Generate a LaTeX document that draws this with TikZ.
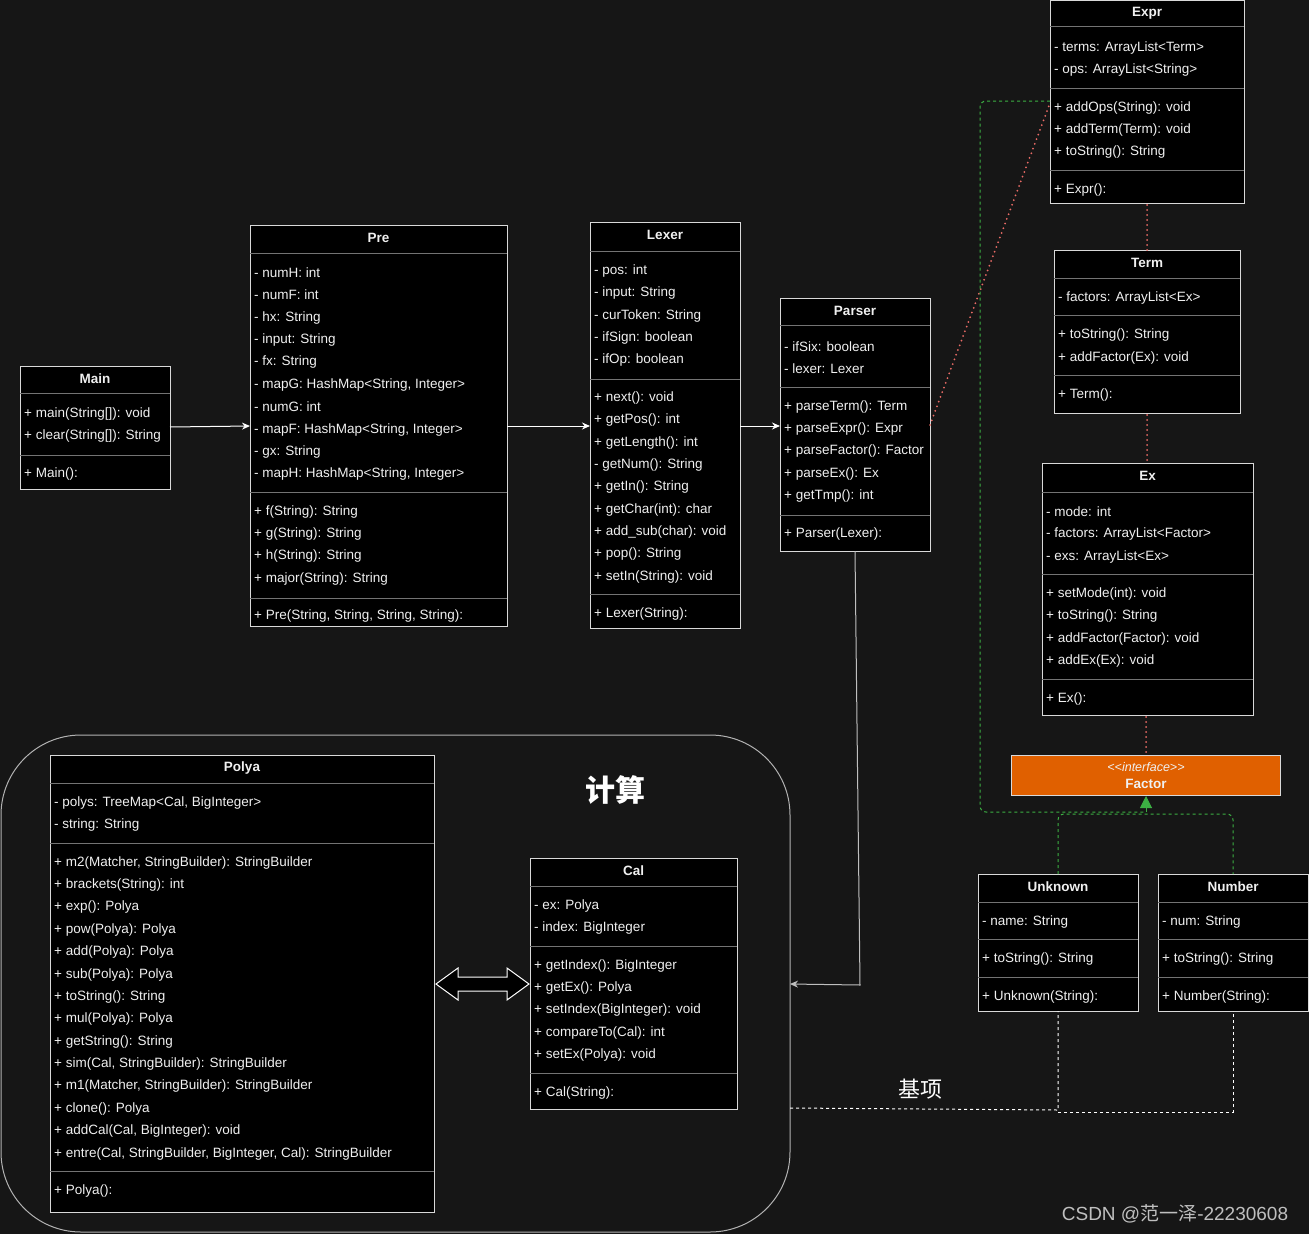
\documentclass[tikz,border=0pt]{standalone}
\usepackage{fontspec}
\setmainfont{Liberation Sans}
\newfontfamily\cjk{Noto Sans CJK SC}
\usetikzlibrary{arrows.meta}
\definecolor{bg}{HTML}{161616}
\definecolor{tx}{HTML}{F0F0F0}
\definecolor{pk}{HTML}{EA6B66}
\definecolor{gn}{HTML}{3CB043}
\definecolor{og}{HTML}{E06000}
\tikzset{
 box/.style={draw=white!85!black,fill=black,line width=1pt},
 sepl/.style={draw=white!45!black,line width=0.8pt},
 mem/.style={anchor=west,text=tx,inner sep=0pt,font=\fontsize{13.5}{15}\selectfont},
 ttl/.style={text=tx,inner sep=0pt,font=\bfseries\fontsize{13.5}{15}\selectfont},
 conn/.style={draw=white,line width=1pt,-{Stealth[length=8pt,width=7pt]}},
 pdot/.style={draw=pk,line width=2pt,line cap=round,dash pattern=on 0pt off 5pt},
 gdash/.style={draw=gn,line width=1pt,dashed,rounded corners=6pt},
 wdash/.style={draw=white,line width=1pt,dashed},
}
\newcommand{\cls}[6]{\draw[box] (#2,#3) rectangle (#4,#5);
 \node[ttl] (#1) at ({(#2+#4)/2},#3+13) {#6};}
\newcommand{\sepr}[3]{\draw[sepl] (#1,#3) -- (#2,#3);}
\newcommand{\mm}[3]{\node[mem] at (#1,#2+1) {#3};}
\begin{document}
\begin{tikzpicture}[x=1pt,y=-1pt]
\fill[bg] (0,0) rectangle (1309,1234);
\useasboundingbox (0,0) rectangle (1309,1234);
% container
\draw[white!70!black,line width=1pt,rounded corners=80pt] (1,735) rectangle (790,1232);
\node[text=white,font=\cjk\bfseries\fontsize{30}{34}\selectfont] (calc) at (615,790) {计算};
% Main
\cls{main}{20}{366}{170}{489}{Main}
\sepr{20}{170}{393}\sepr{20}{170}{455}
\mm{24}{413}{+ main(String[]): void}\mm{24}{435}{+ clear(String[]): String}\mm{24}{473}{+ Main():}
% Pre
\cls{pre}{250}{225}{507}{626}{Pre}
\sepr{250}{507}{253}\sepr{250}{507}{492}\sepr{250}{507}{598}
\mm{254}{272}{- numH: int}\mm{254}{294}{- numF: int}\mm{254}{317}{- hx: String}\mm{254}{339}{- input: String}
\mm{254}{361}{- fx: String}\mm{254}{384}{- mapG: HashMap<String, Integer>}\mm{254}{406}{- numG: int}
\mm{254}{429}{- mapF: HashMap<String, Integer>}\mm{254}{451}{- gx: String}\mm{254}{473}{- mapH: HashMap<String, Integer>}
\mm{254}{511}{+ f(String): String}\mm{254}{533}{+ g(String): String}\mm{254}{555}{+ h(String): String}\mm{254}{578}{+ major(String): String}
\mm{254}{615}{+ Pre(String, String, String, String):}
% Lexer
\cls{lexer}{590}{222}{740}{628}{Lexer}
\sepr{590}{740}{251}\sepr{590}{740}{379}\sepr{590}{740}{594}
\mm{594}{270}{- pos: int}\mm{594}{292}{- input: String}\mm{594}{315}{- curToken: String}\mm{594}{337}{- ifSign: boolean}\mm{594}{359}{- ifOp: boolean}
\mm{594}{397}{+ next(): void}\mm{594}{419}{+ getPos(): int}\mm{594}{442}{+ getLength(): int}\mm{594}{464}{- getNum(): String}
\mm{594}{486}{+ getIn(): String}\mm{594}{509}{+ getChar(int): char}\mm{594}{531}{+ add\_sub(char): void}\mm{594}{553}{+ pop(): String}\mm{594}{576}{+ setIn(String): void}
\mm{594}{613}{+ Lexer(String):}
% Parser
\cls{parser}{780}{298}{930}{551}{Parser}
\sepr{780}{930}{325}\sepr{780}{930}{387}\sepr{780}{930}{515}
\mm{784}{346}{- ifSix: boolean}\mm{784}{368}{- lexer: Lexer}
\mm{784}{406}{+ parseTerm(): Term}\mm{784}{428}{+ parseExpr(): Expr}\mm{784}{450}{+ parseFactor(): Factor}\mm{784}{473}{+ parseEx(): Ex}\mm{784}{495}{+ getTmp(): int}
\mm{784}{533}{+ Parser(Lexer):}
% Expr
\cls{expr}{1050}{0}{1244}{203}{Expr}
\sepr{1050}{1244}{26}\sepr{1050}{1244}{88}\sepr{1050}{1244}{170}
\mm{1054}{47}{- terms: ArrayList<Term>}\mm{1054}{69}{- ops: ArrayList<String>}
\mm{1054}{107}{+ addOps(String): void}\mm{1054}{129}{+ addTerm(Term): void}\mm{1054}{151}{+ toString(): String}\mm{1054}{189}{+ Expr():}
% Term
\cls{term}{1054}{250}{1240}{413}{Term}
\sepr{1054}{1240}{278}\sepr{1054}{1240}{315}\sepr{1054}{1240}{375}
\mm{1058}{297}{- factors: ArrayList<Ex>}\mm{1058}{334}{+ toString(): String}\mm{1058}{357}{+ addFactor(Ex): void}\mm{1058}{394}{+ Term():}
% Ex
\cls{ex}{1042}{463}{1253}{715}{Ex}
\sepr{1042}{1253}{492}\sepr{1042}{1253}{574}\sepr{1042}{1253}{679}
\mm{1046}{511}{- mode: int}\mm{1046}{533}{- factors: ArrayList<Factor>}\mm{1046}{556}{- exs: ArrayList<Ex>}
\mm{1046}{593}{+ setMode(int): void}\mm{1046}{615}{+ toString(): String}\mm{1046}{638}{+ addFactor(Factor): void}\mm{1046}{660}{+ addEx(Ex): void}\mm{1046}{698}{+ Ex():}
% Factor
\draw[fill=og,draw=white!85!black,line width=1pt] (1011,755) rectangle (1280,795);
\node[text=tx,inner sep=0pt,font=\itshape\fontsize{12.5}{14}\selectfont] at (1146,767) {<\kern0pt<interface>\kern0pt>};
\node[ttl] (factor) at (1146,784) {Factor};
% Unknown
\cls{unknown}{978}{874}{1138}{1011}{Unknown}
\sepr{978}{1138}{902}\sepr{978}{1138}{939}\sepr{978}{1138}{977}
\mm{982}{921}{- name: String}\mm{982}{958}{+ toString(): String}\mm{982}{996}{+ Unknown(String):}
% Number
\cls{number}{1158}{874}{1308}{1011}{Number}
\sepr{1158}{1308}{902}\sepr{1158}{1308}{939}\sepr{1158}{1308}{977}
\mm{1162}{921}{- num: String}\mm{1162}{958}{+ toString(): String}\mm{1162}{996}{+ Number(String):}
% Polya
\cls{polya}{50}{755}{434}{1212}{Polya}
\sepr{50}{434}{783}\sepr{50}{434}{843}\sepr{50}{434}{1171}
\mm{54}{802}{- polys: TreeMap<Cal, BigInteger>}\mm{54}{824}{- string: String}
\mm{54}{862}{+ m2(Matcher, StringBuilder): StringBuilder}\mm{54}{884}{+ brackets(String): int}\mm{54}{906}{+ exp(): Polya}
\mm{54}{929}{+ pow(Polya): Polya}\mm{54}{951}{+ add(Polya): Polya}\mm{54}{974}{+ sub(Polya): Polya}\mm{54}{996}{+ toString(): String}
\mm{54}{1018}{+ mul(Polya): Polya}\mm{54}{1041}{+ getString(): String}\mm{54}{1063}{+ sim(Cal, StringBuilder): StringBuilder}
\mm{54}{1085}{+ m1(Matcher, StringBuilder): StringBuilder}\mm{54}{1108}{+ clone(): Polya}\mm{54}{1130}{+ addCal(Cal, BigInteger): void}
\mm{54}{1153}{+ entre(Cal, StringBuilder, BigInteger, Cal): StringBuilder}\mm{54}{1190}{+ Polya():}
% Cal
\cls{cal}{530}{858}{737}{1109}{Cal}
\sepr{530}{737}{886}\sepr{530}{737}{946}\sepr{530}{737}{1073}
\mm{534}{905}{- ex: Polya}\mm{534}{927}{- index: BigInteger}
\mm{534}{965}{+ getIndex(): BigInteger}\mm{534}{987}{+ getEx(): Polya}\mm{534}{1009}{+ setIndex(BigInteger): void}\mm{534}{1032}{+ compareTo(Cal): int}\mm{534}{1054}{+ setEx(Polya): void}
\mm{534}{1092}{+ Cal(String):}
% connectors
\draw[conn] (170,427) -- (250,426);
\draw[conn] (507,426) -- (590,426);
\draw[conn] (740,426) -- (780,426);
\draw[draw=white!75!black,line width=1pt,-{Stealth[length=8pt,width=7pt]}] (855,551) -- (860,985) -- (790,984);
\draw[white,line width=1pt,fill=black] (436,984) -- (458,968) -- (458,977) -- (507,977) -- (507,968) -- (529,984) -- (507,1000) -- (507,991) -- (458,991) -- (458,1000) -- cycle;
\draw[pdot] (930,425) -- (1050,103);
\draw[pdot] (1147,205) -- (1147,250);
\draw[pdot] (1147,415) -- (1147,463);
\draw[pdot] (1146,717) -- (1146,755);
\draw[gdash] (1050,101) -- (980,101) -- (980,812) -- (1146,812);
\draw[gdash] (1058,874) -- (1058,814) -- (1233,814) -- (1233,874);
\draw[draw=gn,line width=1pt,-{Triangle[length=12pt,width=12pt,fill=gn]}] (1146,812) -- (1146,796);
\draw[wdash] (790,1108) -- (1058,1110) -- (1058,1011);
\draw[wdash] (1058,1112) -- (1233,1112) -- (1233,1011);
\node[text=white,font=\cjk\fontsize{22}{26}\selectfont] (jx) at (920,1089) {基项};
\node[text=white!75!black,font=\fontsize{19}{22}\selectfont] (wm) at (1175,1214) {CSDN @\cjk 范一泽\rmfamily -22230608};
\end{tikzpicture}
\end{document}
